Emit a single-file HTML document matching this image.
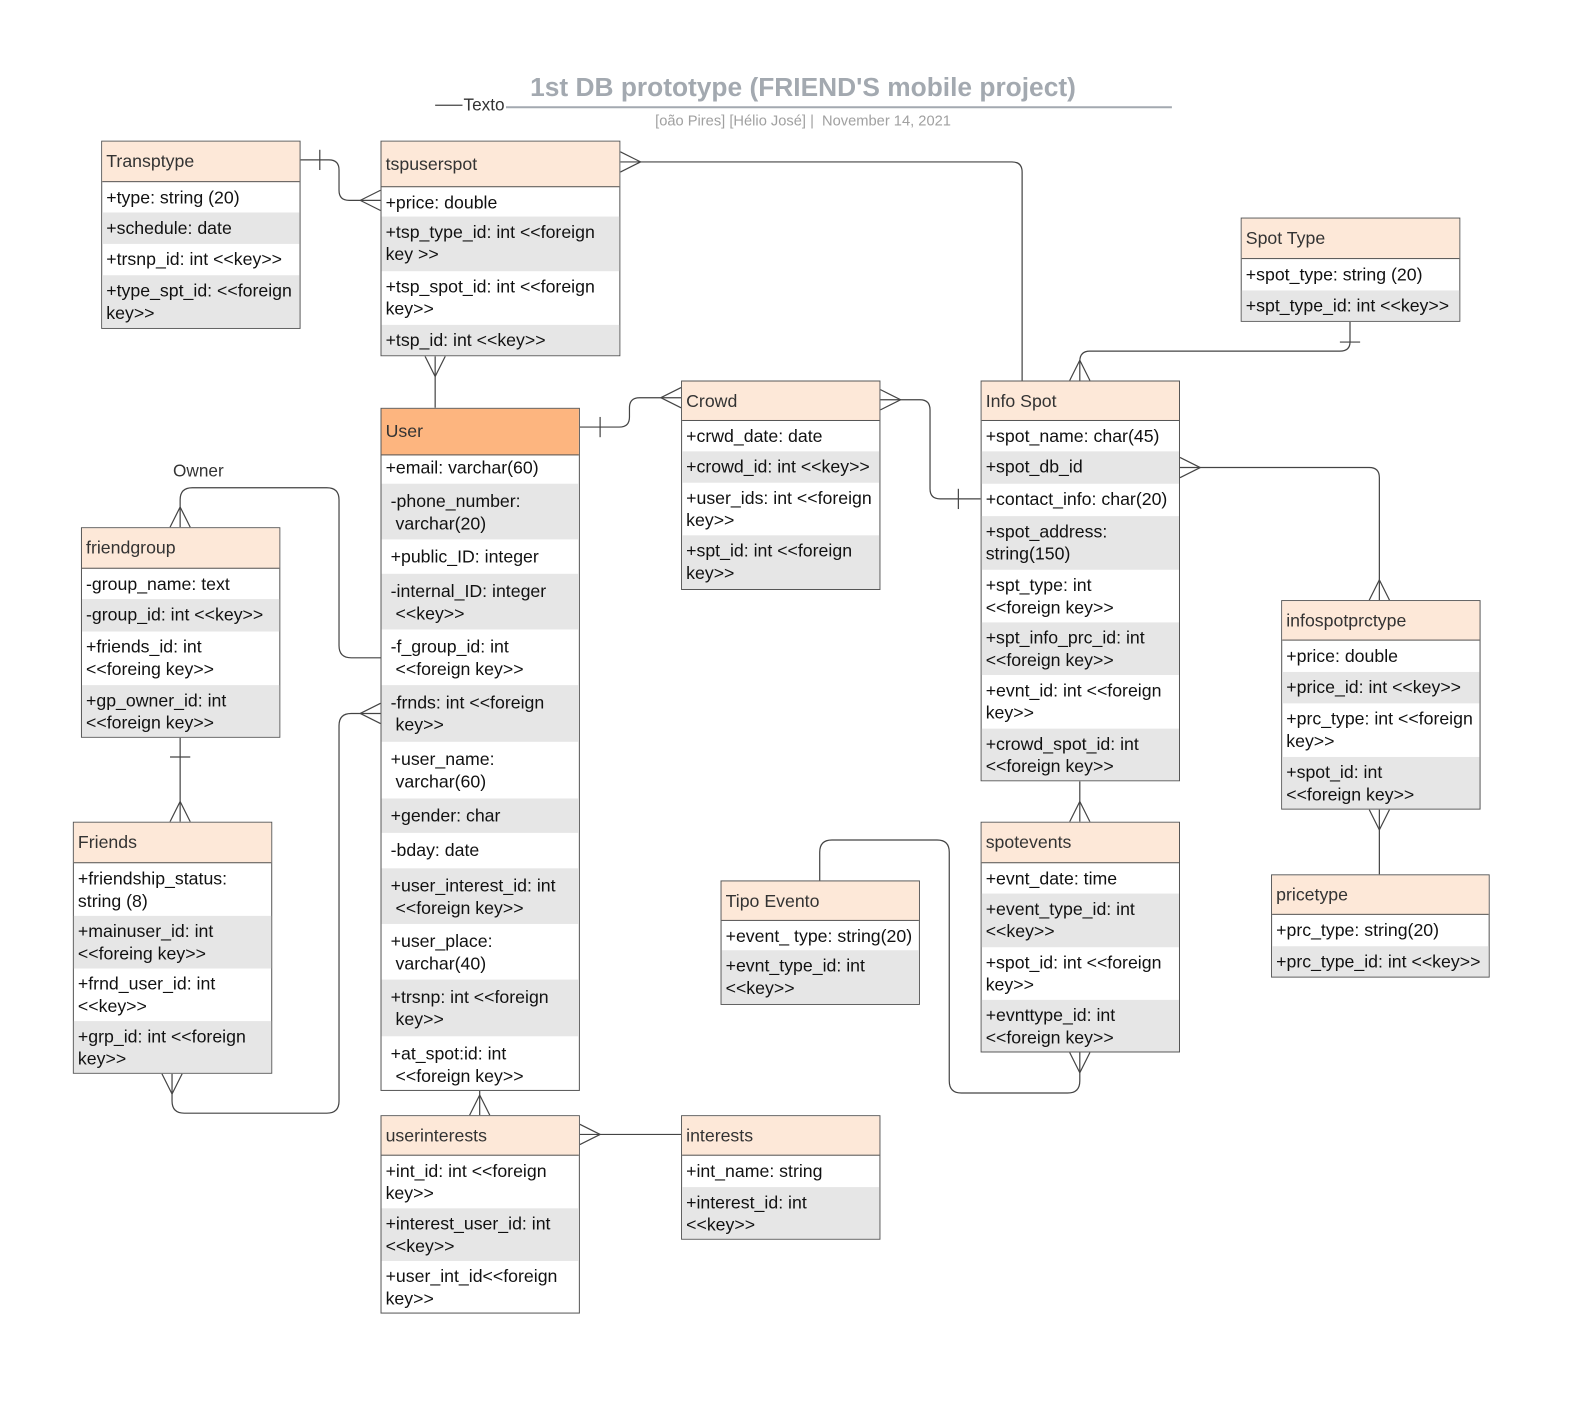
<!DOCTYPE html>
<html><head><meta charset="utf-8"><style>
body{margin:0;background:#fff;width:1587px;height:1387px;position:relative;overflow:hidden;font-family:"Liberation Sans",sans-serif}
#w{position:absolute;left:0;top:0;width:1568px;height:1371px;transform:scale(1.012);transform-origin:0 0}
.b{position:absolute;border:1px solid #555;box-sizing:border-box;background:#fff}
.h{background:#fde8d8;border-bottom:1px solid #555;box-sizing:border-box;font-size:17.5px;color:#333;padding-left:4px;display:flex;align-items:center}
.r{box-sizing:border-box;font-size:17.5px;color:#111;padding:4px 4px 0 4px;line-height:22px;overflow:hidden;white-space:nowrap}
.g{background:#e6e6e6}
.u .r{padding-left:9px}
.t{position:absolute;white-space:nowrap}
svg{position:absolute;left:0;top:0}
</style></head><body><div id="w">

<div class="t" style="left:0;width:1587px;top:71px;text-align:center;font-size:26px;font-weight:bold;color:#a3a9b0">1st DB prototype (FRIEND'S mobile project)</div>
<div class="t" style="left:458px;top:94px;font-size:17px;color:#333">Texto</div>
<div class="t" style="left:0;width:1587px;top:112px;text-align:center;font-size:14.5px;color:#a0a0a0">[oão Pires] [Hélio José] |&nbsp; November 14, 2021</div>
<div class="t" style="left:171px;top:456px;font-size:17px;color:#333">Owner</div>

<svg width="1587" height="1387" fill="none" stroke="#444" stroke-width="1.2">
<line x1="430" y1="104" x2="457" y2="104"/>
<line x1="500" y1="106" x2="1158" y2="106" stroke="#a3a9b0" stroke-width="2"/>
<path d="M297 158 H325 Q335 158 335 168 V188 Q335 198 345 198 H376"/>
<line x1="316" y1="148" x2="316" y2="168"/>
<path d="M356 198 L376 188 M356 198 L376 208"/>
<path d="M613 160 H1000 Q1010 160 1010 170 V376"/>
<path d="M633 160 L613 150 M633 160 L613 170"/>
<path d="M430 352 V403"/>
<path d="M430 372 L420 352 M430 372 L440 352"/>
<path d="M573 422 H612 Q622 422 622 412 V403 Q622 393 632 393 H673"/>
<line x1="593" y1="412" x2="593" y2="432"/>
<path d="M653 393 L673 383 M653 393 L673 403"/>
<path d="M870 395 H909 Q919 395 919 405 V483 Q919 493 929 493 H969"/>
<path d="M890 395 L870 385 M890 395 L870 405"/>
<line x1="947" y1="483" x2="947" y2="503"/>
<path d="M1334 318 V338 Q1334 347 1324 347 H1077 Q1067 347 1067 357 V376"/>
<line x1="1324" y1="338" x2="1344" y2="338"/>
<path d="M1067 356 L1057 376 M1067 356 L1077 376"/>
<path d="M1166 462 H1353 Q1363 462 1363 472 V593"/>
<path d="M1186 462 L1166 452 M1186 462 L1166 472"/>
<path d="M1363 573 L1353 593 M1363 573 L1373 593"/>
<path d="M1363 800 V864"/>
<path d="M1363 820 L1353 800 M1363 820 L1373 800"/>
<path d="M1067 772 V812"/>
<path d="M1067 792 L1057 812 M1067 792 L1077 812"/>
<path d="M1067 1040 V1068 Q1067 1080 1055 1080 H950 Q938 1080 938 1068 V842 Q938 830 926 830 H822 Q810 830 810 842 V870"/>
<path d="M1067 1060 L1057 1040 M1067 1060 L1077 1040"/>
<path d="M376 650 H347 Q335 650 335 638 V494 Q335 482 323 482 H190 Q178 482 178 494 V521"/>
<path d="M178 501 L168 521 M178 501 L188 521"/>
<path d="M178 729 V812"/>
<line x1="168" y1="748" x2="188" y2="748"/>
<path d="M178 792 L168 812 M178 792 L188 812"/>
<path d="M170 1061 V1088 Q170 1100 182 1100 H323 Q335 1100 335 1088 V717 Q335 705 347 705 H376"/>
<path d="M170 1081 L160 1061 M170 1081 L180 1061"/>
<path d="M356 705 L376 695 M356 705 L376 715"/>
<path d="M474 1078 V1102"/>
<path d="M474 1082 L464 1102 M474 1082 L484 1102"/>
<path d="M573 1121 H673"/>
<path d="M593 1121 L573 1111 M593 1121 L573 1131"/>
</svg>

<div class="b" style="left:100px;top:139px;width:197px">
<div class="h" style="height:40px">Transptype</div>
<div class="r" style="height:30px">+type: string (20)</div>
<div class="r g" style="height:31px">+schedule: date</div>
<div class="r" style="height:31px">+trsnp_id: int &lt;&lt;key&gt;&gt;</div>
<div class="r g" style="height:52px">+type_spt_id: &lt;&lt;foreign<br>key&gt;&gt;</div>
</div>

<div class="b" style="left:376px;top:139px;width:237px">
<div class="h" style="height:45px">tspuserspot</div>
<div class="r" style="height:29px">+price: double</div>
<div class="r g" style="height:54px">+tsp_type_id: int &lt;&lt;foreign<br>key &gt;&gt;</div>
<div class="r" style="height:53px">+tsp_spot_id: int &lt;&lt;foreign<br>key&gt;&gt;</div>
<div class="r g" style="height:30px">+tsp_id: int &lt;&lt;key&gt;&gt;</div>
</div>

<div class="b u" style="left:376px;top:403px;width:197px">
<div class="h" style="height:46px;background:#fdb57f">User</div>
<div class="r" style="height:28px;padding-top:1px;padding-left:4px">+email: varchar(60)</div>
<div class="r g" style="height:55px;padding-top:6px">-phone_number:<br>&nbsp;varchar(20)</div>
<div class="r" style="height:34px;padding-top:6px">+public_ID: integer</div>
<div class="r g" style="height:55px;padding-top:6px">-internal_ID: integer<br>&nbsp;&lt;&lt;key&gt;&gt;</div>
<div class="r" style="height:55px;padding-top:6px">-f_group_id: int<br>&nbsp;&lt;&lt;foreign key&gt;&gt;</div>
<div class="r g" style="height:56px;padding-top:6px">-frnds: int &lt;&lt;foreign<br>&nbsp;key&gt;&gt;</div>
<div class="r" style="height:56px;padding-top:6px">+user_name:<br>&nbsp;varchar(60)</div>
<div class="r g" style="height:34px;padding-top:6px">+gender: char</div>
<div class="r" style="height:35px;padding-top:6px">-bday: date</div>
<div class="r g" style="height:55px;padding-top:6px">+user_interest_id: int<br>&nbsp;&lt;&lt;foreign key&gt;&gt;</div>
<div class="r" style="height:55px;padding-top:6px">+user_place:<br>&nbsp;varchar(40)</div>
<div class="r g" style="height:56px;padding-top:6px">+trsnp: int &lt;&lt;foreign<br>&nbsp;key&gt;&gt;</div>
<div class="r" style="height:53px;padding-top:6px">+at_spot:id: int<br>&nbsp;&lt;&lt;foreign key&gt;&gt;</div>
</div>

<div class="b" style="left:80px;top:521px;width:197px">
<div class="h" style="height:40px">friendgroup</div>
<div class="r" style="height:30px">-group_name: text</div>
<div class="r g" style="height:32px">-group_id: int &lt;&lt;key&gt;&gt;</div>
<div class="r" style="height:53px">+friends_id: int<br>&lt;&lt;foreing key&gt;&gt;</div>
<div class="r g" style="height:51px">+gp_owner_id: int<br>&lt;&lt;foreign key&gt;&gt;</div>
</div>

<div class="b" style="left:72px;top:812px;width:197px">
<div class="h" style="height:40px">Friends</div>
<div class="r" style="height:52px">+friendship_status:<br>string (8)</div>
<div class="r g" style="height:52px">+mainuser_id: int<br>&lt;&lt;foreing key&gt;&gt;</div>
<div class="r" style="height:52px">+frnd_user_id: int<br>&lt;&lt;key&gt;&gt;</div>
<div class="r g" style="height:51px">+grp_id: int &lt;&lt;foreign<br>key&gt;&gt;</div>
</div>

<div class="b" style="left:673px;top:376px;width:197px">
<div class="h" style="height:39px">Crowd</div>
<div class="r" style="height:30px">+crwd_date: date</div>
<div class="r g" style="height:31px">+crowd_id: int &lt;&lt;key&gt;&gt;</div>
<div class="r" style="height:52px">+user_ids: int &lt;&lt;foreign<br>key&gt;&gt;</div>
<div class="r g" style="height:53px">+spt_id: int &lt;&lt;foreign<br>key&gt;&gt;</div>
</div>

<div class="b" style="left:969px;top:376px;width:197px">
<div class="h" style="height:39px">Info Spot</div>
<div class="r" style="height:30px">+spot_name: char(45)</div>
<div class="r g" style="height:32px">+spot_db_id</div>
<div class="r" style="height:32px">+contact_info: char(20)</div>
<div class="r g" style="height:53px">+spot_address:<br>string(150)</div>
<div class="r" style="height:52px">+spt_type: int<br>&lt;&lt;foreign key&gt;&gt;</div>
<div class="r g" style="height:52px">+spt_info_prc_id: int<br>&lt;&lt;foreign key&gt;&gt;</div>
<div class="r" style="height:53px">+evnt_id: int &lt;&lt;foreign<br>key&gt;&gt;</div>
<div class="r g" style="height:51px">+crowd_spot_id: int<br>&lt;&lt;foreign key&gt;&gt;</div>
</div>

<div class="b" style="left:1226px;top:215px;width:217px">
<div class="h" style="height:40px">Spot Type</div>
<div class="r" style="height:31px">+spot_type: string (20)</div>
<div class="r g" style="height:30px">+spt_type_id: int &lt;&lt;key&gt;&gt;</div>
</div>

<div class="b" style="left:1266px;top:593px;width:197px">
<div class="h" style="height:39px">infospotprctype</div>
<div class="r" style="height:31px">+price: double</div>
<div class="r g" style="height:31px">+price_id: int &lt;&lt;key&gt;&gt;</div>
<div class="r" style="height:53px">+prc_type: int &lt;&lt;foreign<br>key&gt;&gt;</div>
<div class="r g" style="height:51px">+spot_id: int<br>&lt;&lt;foreign key&gt;&gt;</div>
</div>

<div class="b" style="left:1256px;top:864px;width:216px">
<div class="h" style="height:39px">pricetype</div>
<div class="r" style="height:31px">+prc_type: string(20)</div>
<div class="r g" style="height:30px">+prc_type_id: int &lt;&lt;key&gt;&gt;</div>
</div>

<div class="b" style="left:969px;top:812px;width:197px">
<div class="h" style="height:40px">spotevents</div>
<div class="r" style="height:30px">+evnt_date: time</div>
<div class="r g" style="height:53px">+event_type_id: int<br>&lt;&lt;key&gt;&gt;</div>
<div class="r" style="height:52px">+spot_id: int &lt;&lt;foreign<br>key&gt;&gt;</div>
<div class="r g" style="height:51px">+evnttype_id: int<br>&lt;&lt;foreign key&gt;&gt;</div>
</div>

<div class="b" style="left:712px;top:870px;width:197px">
<div class="h" style="height:39px">Tipo Evento</div>
<div class="r" style="height:29px">+event_ type: string(20)</div>
<div class="r g" style="height:53px">+evnt_type_id: int<br>&lt;&lt;key&gt;&gt;</div>
</div>

<div class="b" style="left:376px;top:1102px;width:197px">
<div class="h" style="height:39px">userinterests</div>
<div class="r" style="height:52px">+int_id: int &lt;&lt;foreign<br>key&gt;&gt;</div>
<div class="r g" style="height:52px">+interest_user_id: int<br>&lt;&lt;key&gt;&gt;</div>
<div class="r" style="height:51px">+user_int_id&lt;&lt;foreign<br>key&gt;&gt;</div>
</div>

<div class="b" style="left:673px;top:1102px;width:197px">
<div class="h" style="height:39px">interests</div>
<div class="r" style="height:31px">+int_name: string</div>
<div class="r g" style="height:51px">+interest_id: int<br>&lt;&lt;key&gt;&gt;</div>
</div>

</div></body></html>
